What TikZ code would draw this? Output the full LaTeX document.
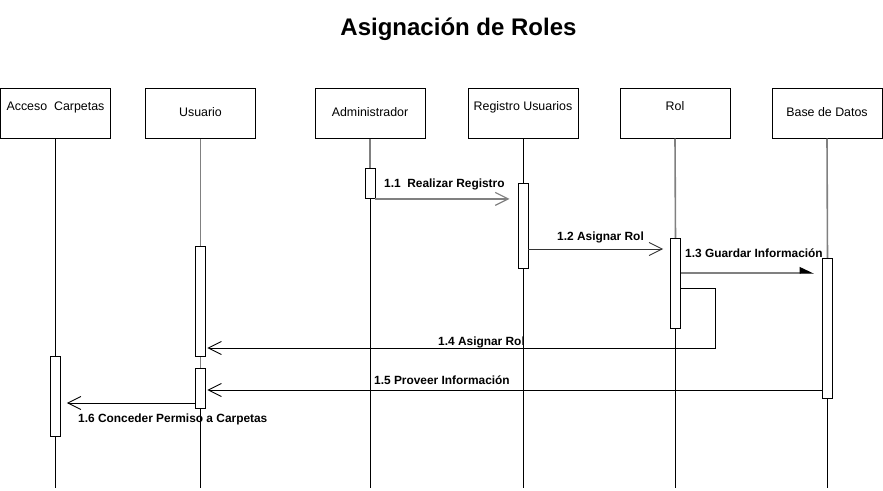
\documentclass[tikz,border=0pt]{standalone}
\usepackage{fontspec}
\setmainfont{Liberation Sans}
\usetikzlibrary{arrows.meta}
\begin{document}
\begin{tikzpicture}[x=1pt,y=-1pt,
  obj/.style={draw, line width=1pt, minimum width=110pt, minimum height=50pt, inner sep=0pt,
    font=\fontsize{12.4}{14}\selectfont, text height=9pt, text depth=2.5pt},
  objup/.style={obj, text depth=15pt},
  actbar/.style={draw, fill=white, line width=0.9pt, minimum width=10pt, inner sep=0pt, anchor=north},
  gline/.style={draw=gray, line width=1.6pt},
  bline/.style={draw=black, line width=0.9pt},
  opentip/.style={-{Straight Barb[length=13pt,width=13pt]}},
  halftip/.style={-{Triangle[harpoon,length=13pt,width=12pt,color=black]}},
  lbl/.style={font=\bfseries\fontsize{11.9}{14}\selectfont, inner sep=0pt, anchor=base west}]
\useasboundingbox (0,0) rectangle (883,490);

\node[font=\bfseries\fontsize{24}{28}\selectfont, anchor=base] (title) at (458.5,35) {Asignación de Roles};

% objects
\node[objup] (acc) at (55.5,113) {Acceso~~Carpetas};
\node[obj] (usu) at (200.5,113) {Usuario};
\node[obj] (adm) at (370,113) {Administrador};
\node[objup] (reg) at (523,113) {Registro Usuarios};
\node[objup] (rol) at (675,113) {Rol};
\node[obj] (bas) at (827,113) {Base de Datos};

% lifeline ends
\coordinate (accEnd) at (55.5,488);
\coordinate (usuEnd) at (200.5,488);
\coordinate (admEnd) at (370,488);
\coordinate (regEnd) at (523,488);
\coordinate (rolEnd) at (675.5,488);
\coordinate (basEnd) at (827.5,488);

% lifelines
\path[bline] (acc.south) -- (accEnd);
\path[gline] (usu.south) -- (200.5,300);
\path[gline] (adm.south) -- (370,170);
\path[bline] (370,190) -- (admEnd);
\path[bline] (reg.south) -- (regEnd);
\path[gline] (rol.south) -- (675.5,240);
\path[bline] (675.5,320) -- (rolEnd);
\path[gline] (bas.south) -- (827.5,260);
\path[bline] (827.5,390) -- (basEnd);
\path[gline] (200.5,350) -- (200.5,370);
\path[bline] (200.5,400) -- (usuEnd);

% activation bars
\node[actbar, minimum height=80pt] (accBar) at (55.5,356) {};
\node[actbar, minimum height=110pt] (usuBar1) at (200.5,246) {};
\node[actbar, minimum height=40pt] (usuBar2) at (200.5,368) {};
\node[actbar, minimum height=30pt] (admBar) at (370,168) {};
\node[actbar, minimum height=85pt] (regBar) at (523,183) {};
\node[actbar, minimum height=90pt] (rolBar) at (675.5,238) {};
\node[actbar, minimum height=140pt] (basBar) at (827.5,258) {};

% messages
\draw[gline, line width=1.2pt, opentip, shorten >=8pt] (admBar.south east) -- (regBar.west |- admBar.south east);
\node[lbl] (l11) at (384,187) {1.1~~Realizar Registro};

\draw[bline, draw=black!80, opentip, shorten >=7pt] (regBar.east |- 0,249) -- (rolBar.west |- 0,249);
\node[lbl] (l12) at (557,240) {1.2 Asignar Rol};

\draw[gline, line width=1.4pt, halftip, shorten >=8pt] (rolBar.east |- 0,273) -- (basBar.west |- 0,273);
\node[lbl] (l13) at (685,257) {1.3 Guardar Información};

\coordinate (loopR) at (715,348);
\draw[bline, opentip, shorten >=1.5pt] (rolBar.east |- 0,288) -| (loopR) -- (usuBar1.east |- loopR);
\node[lbl] (l14) at (438,345) {1.4 Asignar Rol};

\draw[bline, opentip, shorten >=1.5pt] (basBar.west |- 0,390) -- (usuBar2.east |- 0,390);
\node[lbl] (l15) at (374,384) {1.5 Proveer Información};

\draw[bline, opentip, shorten >=6pt] (usuBar2.west |- 0,403) -- (accBar.east |- 0,403);
\node[lbl] (l16) at (78,422) {1.6 Conceder Permiso a Carpetas};
\end{tikzpicture}
\end{document}
